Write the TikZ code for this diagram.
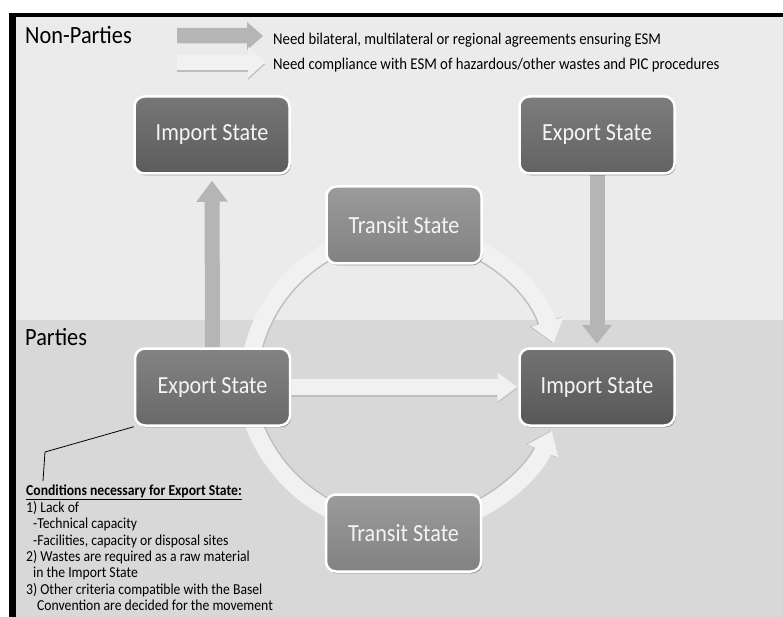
\documentclass[tikz,border=0pt]{standalone}
\usepackage{fontspec}
\setmainfont{Carlito}[FakeStretch=0.9]
\usetikzlibrary{arrows.meta,shadows,calc}
\definecolor{bgtop}{HTML}{EBEBEB}
\definecolor{bgbot}{HTML}{D8D8D8}
\definecolor{fatgray}{HTML}{B5B5B5}
\definecolor{lightband}{HTML}{F1F1F1}
\definecolor{bandshadow}{HTML}{BDBDBD}
\definecolor{impA}{HTML}{646464}
\definecolor{expA}{HTML}{6B6B6B}
\definecolor{expB}{HTML}{727272}
\definecolor{impB}{HTML}{5F5F5F}
\definecolor{transC}{HTML}{8D8D8D}
\definecolor{labeltext}{HTML}{F4F4F4}
\pgfdeclarelayer{back}
\pgfdeclarelayer{bg}
\pgfsetlayers{back,bg,main}
\tikzset{
  statebox/.style={rounded corners=10pt, draw=white, line width=2.5pt,
    minimum width=155pt, minimum height=77pt, text=labeltext,
    font=\fontsize{24.6}{28}\selectfont,
    top color=#1!88!white, bottom color=#1!92!black,
    drop shadow={shadow xshift=1.2pt, shadow yshift=-1.8pt, opacity=0.35, fill=black}},
  fatarrow/.style={draw=fatgray, line width=15pt, -{Triangle[width=30pt,length=21pt]}},
  bandarrow/.style={draw=lightband, line width=17pt, -{Triangle[width=32pt,length=22pt]}},
  bandshade/.style={draw=bandshadow, line width=17pt, -{Triangle[width=32pt,length=22pt]}},
  title/.style={inner sep=0pt, anchor=base west, font=\fontsize{24.8}{28}\selectfont},
  legendtext/.style={inner sep=0pt, anchor=base west, font=\fontsize{16.4}{19}\selectfont},
}
\begin{document}
\begin{tikzpicture}[x=1pt,y=-1pt]
\useasboundingbox (0,0) rectangle (783,617);
\begin{pgfonlayer}{back}
\fill[white] (0,0) rectangle (783,617);
\fill[bgtop] (16,17) rectangle (783,320);
\fill[bgbot] (16,320) rectangle (783,617);
\fill[black] (9,13) rectangle (783,17);
\fill[black] (9,13) rectangle (16,617);
\end{pgfonlayer}

% titles
\node[title] (np) at (25,44) {Non-Parties};
\node[title] (pt) at (25,345) {Parties};

% legend
\coordinate (lg1) at (177,35.5);
\coordinate (lg2) at (177,62.5);
\fill[fatgray] (lg1) ++(0,-7.5) -- ++(70,0) -- ++(0,-6) -- ++(16,14) -- ++(-16,14) -- ++(0,-6.5) -- ++(-70,0) -- cycle;
\fill[bandshadow] ($(lg2)+(0,1.8)$) ++(0,-7.5) -- ++(71,0) -- ++(0,-8) -- ++(17,15.5) -- ++(-17,15.5) -- ++(0,-8) -- ++(-71,0) -- cycle;
\fill[lightband] (lg2) ++(0,-7.5) -- ++(71,0) -- ++(0,-8) -- ++(17,15.5) -- ++(-17,15.5) -- ++(0,-8) -- ++(-71,0) -- cycle;
\node[legendtext] (l1) at (273,45) {Need bilateral, multilateral or regional agreements ensuring ESM};
\node[legendtext] (l2) at (273,70) {Need compliance with ESM of hazardous/other wastes and PIC procedures};

% state boxes
\node[statebox=impA] (ImpTop) at (212,135) {Import State};
\node[statebox=expA] (ExpTop) at (597,135) {Export State};
\node[statebox=transC] (TransTop) at (404,225) {Transit State};
\node[statebox=expB] (ExpMid) at (212.5,387) {Export State};
\node[statebox=impB] (ImpMid) at (597,387) {Import State};
\node[statebox=transC] (TransBot) at (403.5,533) {Transit State};

% conditions
\node[inner sep=0pt, anchor=north west, align=left, font=\fontsize{15.2}{16.4}\selectfont] (cond) at (26,485)
 {\underline{\textbf{Conditions necessary for Export State:}}\\
  1) Lack of\\
  \hspace*{7pt}-Technical capacity\\
  \hspace*{7pt}-Facilities, capacity or disposal sites\\
  2) Wastes are required as a raw material\\
  \hspace*{7pt}in the Import State\\
  3) Other criteria compatible with the Basel\\
  \hspace*{11pt}Convention are decided for the movement};

\coordinate (ctop) at (404,387);
\coordinate (cbot) at (404,367);
\coordinate (cb) at (45,452);
\coordinate (ce) at (43,481);

\begin{pgfonlayer}{bg}
% callout
\draw[black, line width=0.8pt] (ExpMid.south west) -- (cb) -- (ce);
% arcs (shadow then band)
\draw[bandshade] ($(ctop)+(-168:154.5)$) arc[start angle=-168, end angle=-16.6, radius=154.5];
\draw[bandarrow] ($(ctop)+(-168:156)$) arc[start angle=-168, end angle=-16.4, radius=156];
\draw[bandshade] ($(cbot)+(160:159.5)$) arc[start angle=160, end angle=23.6, radius=159.5];
\draw[bandarrow] ($(cbot)+(160:161)$) arc[start angle=160, end angle=23.4, radius=161];
% straight arrows
\draw[bandshade, line width=16pt, -{Triangle[width=28pt,length=20pt]}] ([yshift=-1.5pt]ExpMid.east) -- ([xshift=-1pt,yshift=-1.5pt]ImpMid.west);
\draw[bandarrow, line width=16pt, -{Triangle[width=28pt,length=20pt]}] (ExpMid.east) -- ([xshift=-1pt]ImpMid.west);
\draw[fatarrow] (ExpMid.north) -- ([yshift=-6pt]ImpTop.south);
\draw[fatarrow, -{Triangle[width=29pt,length=19pt]}] (ExpTop.south) -- ([yshift=3.5pt]ImpMid.north);
\end{pgfonlayer}
\end{tikzpicture}
\end{document}
